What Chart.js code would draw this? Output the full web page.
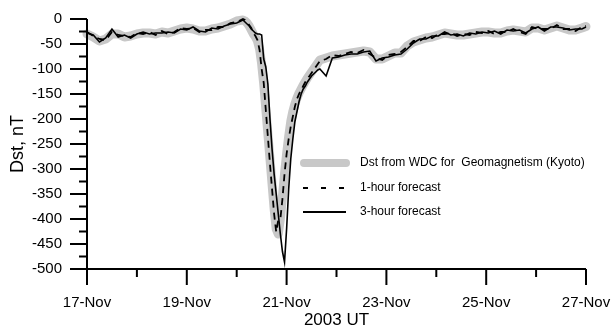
<!DOCTYPE html>
<html>
<head>
<meta charset="utf-8">
<script src="https://cdn.jsdelivr.net/npm/chart.js@4.4.0/dist/chart.umd.min.js"></script>
<style>
html, body { margin: 0; padding: 0; background: #fff; }
#wrap { width: 611px; height: 329px; }
</style>
</head>
<body>
<div id="wrap"><canvas id="dstChart"></canvas></div>
<script>
// hours since 17-Nov-2003 00 UT
var hours = [0,3,6,9,12,15,18,21,24,27,30,33,36,39,42,45,48,51,54,57,60,63,66,69,72,75,
    76,77,78,79,80,81,82,83,84,85,86,87,88,89,90,91,92,93,94,95,96,97,98,99,100,101,102,103,104,105,106,107,108,109,110,111,112,
    115,118,121,124,127,130,133,136,139,142,145,148,151,154,157,160,163,166,169,172,175,178,181,184,187,190,193,196,199,202,205,208,211,214,217,220,223,226,229,232,235,238,240];

var dstKyoto = [-30,-36,-44,-40,-30,-30,-36,-34,-30,-28,-28,-30,-26,-28,-24,-20,-18,-20,-24,-24,-20,-18,-14,-10,-4,-2,
    -4,-8,-14,-22,-30,-36,-44,-60,-90,-130,-180,-230,-280,-330,-380,-420,-430,-400,-355,-310,-270,-235,-205,-185,-170,-158,-148,-140,-132,-125,-118,-112,-106,-100,-94,-88,-82,
    -78,-74,-72,-70,-68,-66,-64,-66,-80,-80,-74,-68,-68,-54,-46,-42,-38,-36,-32,-28,-30,-32,-32,-30,-28,-26,-26,-28,-28,-24,-22,-24,-26,-18,-18,-22,-18,-14,-18,-22,-22,-18,-15];

var forecast1h = [-26,-34,-40,-42,-26,-32,-34,-36,-28,-30,-26,-32,-24,-30,-26,-18,-20,-18,-26,-22,-22,-16,-16,-8,-6,0,
    -2,-6,-12,-18,-28,-34,-42,-62,-100,-128,-182,-236,-290,-340,-390,-426,-402,-400,-360,-310,-270,-240,-215,-195,-175,-160,-150,-142,-134,-126,-120,-114,-108,-102,-96,-90,-84,
    -80,-72,-74,-70,-66,-68,-62,-70,-78,-82,-72,-70,-66,-56,-44,-44,-36,-38,-30,-30,-28,-34,-30,-32,-26,-28,-24,-30,-26,-26,-20,-26,-30,-16,-20,-20,-20,-12,-20,-20,-24,-16,-14];

var forecast3h = [-28,-32,-46,-38,-20,-36,-32,-38,-30,-26,-30,-28,-28,-26,-28,-20,-22,-16,-24,-26,-18,-20,-14,-10,-8,-2,
    -6,-10,-14,-20,-24,-28,-30,-30,-32,-80,-96,-130,-200,-260,-310,-350,-390,-430,-465,-486,-420,-340,-280,-240,-205,-185,-165,-150,-140,-134,-126,-120,-114,-110,-106,-102,-100,
    -114,-78,-76,-72,-70,-70,-66,-64,-84,-78,-76,-72,-70,-60,-48,-40,-40,-34,-34,-26,-32,-30,-34,-28,-30,-26,-28,-24,-30,-22,-24,-22,-28,-20,-16,-24,-16,-16,-18,-22,-20,-20,-16];

var xTickLabels = ['17-Nov', '19-Nov', '21-Nov', '23-Nov', '25-Nov', '27-Nov'];
var seriesNames = ['Dst from WDC for  Geomagnetism (Kyoto)', '1-hour forecast', '3-hour forecast'];

var fontName = '"Liberation Sans", Arial, sans-serif';

function points(vals) {
    return hours.map(function (h, i) { return { x: h, y: vals[i] }; });
}

// axis lines with long and short tick marks
var axesPlugin = {
    id: 'axesPlugin',
    afterDraw: function (chart) {
        var ctx = chart.ctx, xs = chart.scales.x, ys = chart.scales.y, a = chart.chartArea;
        ctx.save();
        ctx.strokeStyle = '#000';
        ctx.lineWidth = 2;
        ctx.beginPath();
        ctx.moveTo(a.left, a.top);
        ctx.lineTo(a.left, a.bottom);
        ctx.lineTo(a.right, a.bottom);
        ys.ticks.forEach(function (t, i) {
            var y = ys.getPixelForValue(t.value);
            ctx.moveTo(a.left - 17, y);
            ctx.lineTo(a.left, y);
            if (i < ys.ticks.length - 1) {
                var ym = ys.getPixelForValue((t.value + ys.ticks[i + 1].value) / 2);
                ctx.moveTo(a.left - 8, ym);
                ctx.lineTo(a.left, ym);
            }
        });
        xs.ticks.forEach(function (t, i) {
            var x = xs.getPixelForValue(t.value);
            ctx.moveTo(x, a.bottom);
            ctx.lineTo(x, a.bottom + 16);
            if (i < xs.ticks.length - 1) {
                var xm = xs.getPixelForValue((t.value + xs.ticks[i + 1].value) / 2);
                ctx.moveTo(xm, a.bottom);
                ctx.lineTo(xm, a.bottom + 8);
            }
        });
        ctx.stroke();
        ctx.restore();
    }
};

// legend drawn inside the plot
var legendPlugin = {
    id: 'insideLegend',
    afterDraw: function (chart) {
        var ctx = chart.ctx, a = chart.chartArea;
        var x0 = a.left + 213, rows = [a.top + 144, a.top + 169, a.top + 193];
        ctx.save();
        ctx.font = '12px ' + fontName;
        ctx.textBaseline = 'middle';
        ctx.fillStyle = '#000';
        chart.data.datasets.forEach(function (ds, i) {
            var y = rows[i];
            ctx.strokeStyle = ds.borderColor;
            ctx.lineWidth = i === 0 ? 8 : 1.8;
            ctx.lineCap = i === 0 ? 'round' : 'butt';
            ctx.setLineDash(i === 1 ? [5, 13] : []);
            ctx.beginPath();
            if (i === 0) { ctx.moveTo(x0 + 4, y); ctx.lineTo(x0 + 46, y); }
            else { ctx.moveTo(x0 + 3, y); ctx.lineTo(x0 + 46, y); }
            ctx.stroke();
            ctx.fillText(ds.label, x0 + 60, y);
        });
        ctx.restore();
    }
};

function noOverhang(s) {
    s.paddingLeft = 0; s.paddingRight = 0; s.paddingTop = 0; s.paddingBottom = 0;
}

var ctx = document.getElementById('dstChart').getContext('2d');
var myChart = new Chart(ctx, {
    type: 'line',
    data: {
        datasets: [{
            label: seriesNames[0],
            data: points(dstKyoto),
            borderColor: '#c8c8c8',
            borderWidth: 9,
            borderJoinStyle: 'round',
            borderCapStyle: 'round',
            order: 3
        }, {
            label: seriesNames[1],
            data: points(forecast1h),
            borderColor: '#000',
            borderWidth: 1.8,
            borderDash: [7, 5],
            order: 2
        }, {
            label: seriesNames[2],
            data: points(forecast3h),
            borderColor: '#000',
            borderWidth: 1.6,
            order: 1
        }]
    },
    options: {
        responsive: true,
        maintainAspectRatio: false,
        animation: false,
        events: [],
        clip: false,
        elements: { point: { radius: 0 }, line: { tension: 0 } },
        layout: { padding: { top: 19, right: 25, left: 0, bottom: 0 } },
        plugins: { legend: { display: false }, tooltip: { enabled: false } },
        scales: {
            x: {
                type: 'linear',
                min: 0,
                max: 240,
                afterFit: function (s) { s.height = 60; noOverhang(s); },
                grid: { display: false, drawTicks: false },
                border: { display: false },
                ticks: {
                    stepSize: 48,
                    autoSkip: false,
                    maxRotation: 0,
                    padding: 25,
                    color: '#000',
                    font: { family: fontName, size: 15 },
                    callback: function (v, i) { return xTickLabels[i]; }
                },
                title: {
                    display: true,
                    text: '2003 UT',
                    color: '#000',
                    font: { family: fontName, size: 17, lineHeight: 1 },
                    padding: { top: 0, bottom: 0 }
                }
            },
            y: {
                min: -500,
                max: 0,
                afterFit: function (s) { s.width = 87; noOverhang(s); },
                grid: { display: false, drawTicks: false },
                border: { display: false },
                ticks: {
                    stepSize: 50,
                    padding: 25,
                    color: '#000',
                    font: { family: fontName, size: 15 }
                },
                title: {
                    display: true,
                    text: 'Dst, nT',
                    color: '#000',
                    font: { family: fontName, size: 18, lineHeight: 1.2 },
                    padding: { top: 7, bottom: 0 }
                }
            }
        }
    },
    plugins: [axesPlugin, legendPlugin]
});
</script>
</body>
</html>
